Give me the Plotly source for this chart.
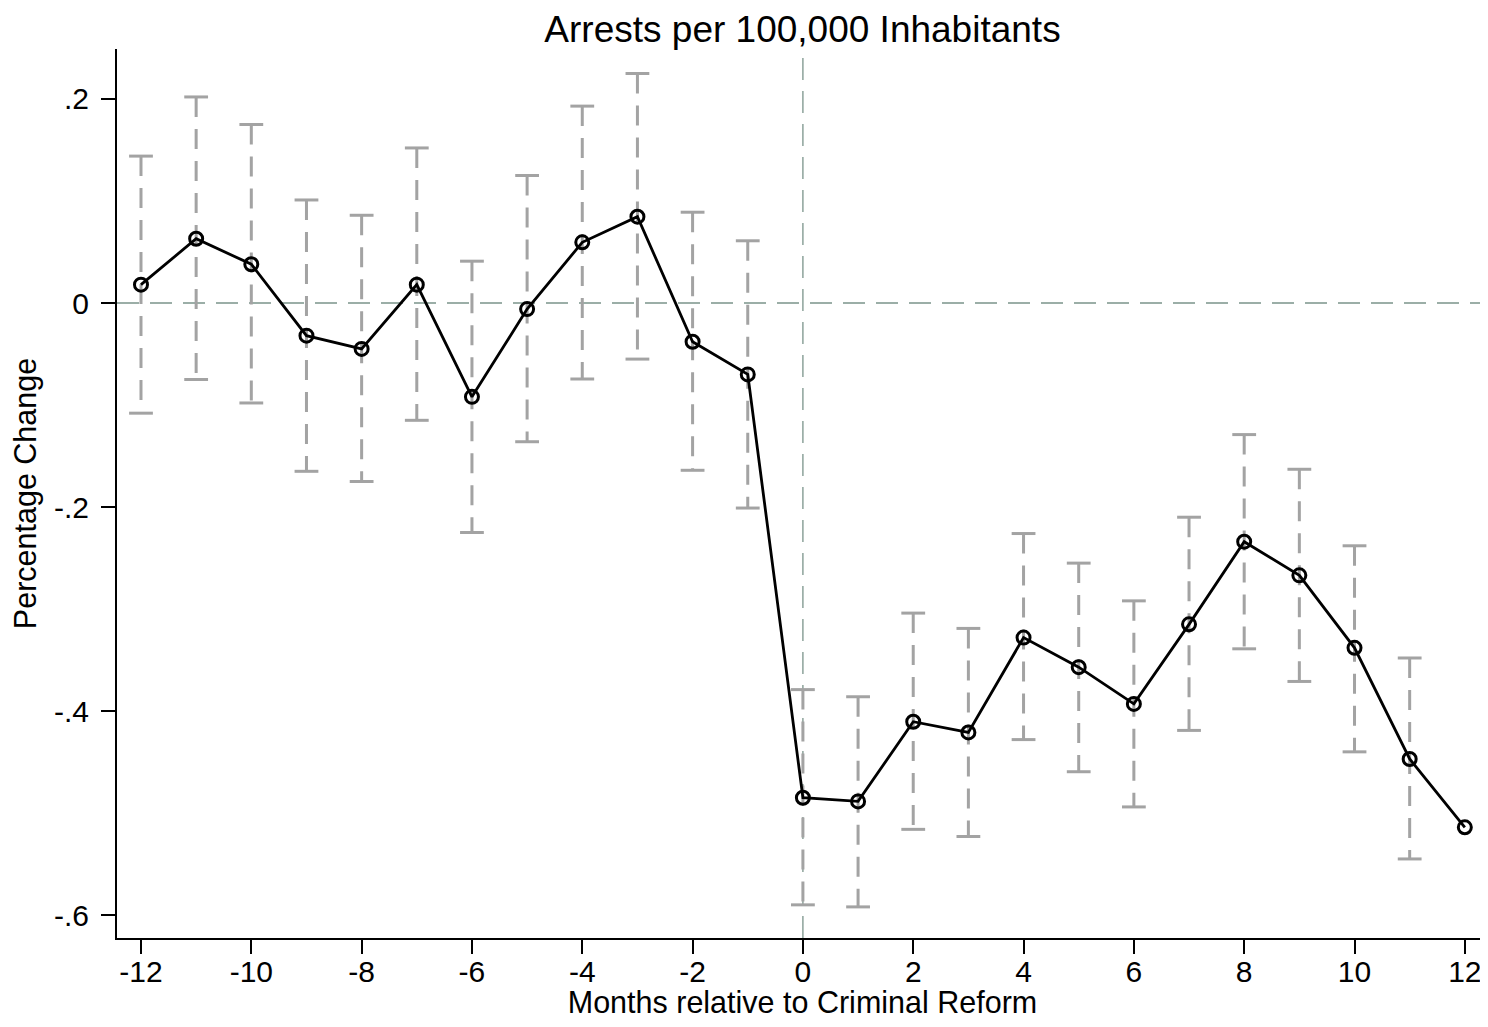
import plotly.graph_objects as go

months = list(range(-12, 13))
coef = [0.018, 0.063, 0.038, -0.032, -0.045, 0.018, -0.092, -0.006, 0.0595, 0.0846,
        -0.038, -0.070, -0.485, -0.4886, -0.4105, -0.421, -0.328, -0.357, -0.393,
        -0.315, -0.234, -0.267, -0.338, -0.447, -0.514]
ci_hi = [0.144, 0.202, 0.175, 0.101, 0.086, 0.152, 0.041, 0.125, 0.193, 0.225,
         0.089, 0.061, -0.379, -0.386, -0.304, -0.319, -0.226, -0.255, -0.292,
         -0.210, -0.129, -0.163, -0.238, -0.348, None]
ci_lo = [-0.108, -0.075, -0.098, -0.165, -0.175, -0.115, -0.225, -0.136, -0.0745, -0.055,
         -0.164, -0.201, -0.590, -0.592, -0.516, -0.523, -0.428, -0.4595, -0.494,
         -0.419, -0.339, -0.371, -0.440, -0.545, None]
xticks = list(range(-12, 13, 2))
yticks = [0.2, 0, -0.2, -0.4, -0.6]
yticklabels = [".2", "0", "-.2", "-.4", "-.6"]

FONT = "Liberation Sans, Arial, Helvetica, sans-serif"
GRAY = "#a3a3a3"
REF = "#7b948b"

# page body has an 8px default margin; size the figure so the plot lands where it should
W, H = 1480, 1011

fig = go.Figure()

# dashed vertical CI segments
ex, ey = [], []
for m, h, l in zip(months, ci_hi, ci_lo):
    if h is None or l is None:
        continue
    ex += [m, m, None]
    ey += [h, l, None]
fig.add_trace(go.Scatter(x=ex, y=ey, mode="lines",
                         line=dict(color=GRAY, width=3, dash="20px,12px"),
                         hoverinfo="skip", showlegend=False))

# caps
cx = [m for m, h in zip(months, ci_hi) if h is not None]
cx2 = cx + cx
cy = [h for h in ci_hi if h is not None] + [l for l in ci_lo if l is not None]
fig.add_trace(go.Scatter(x=cx2, y=cy, mode="markers",
                         marker=dict(symbol="line-ew", size=17,
                                     line=dict(color=GRAY, width=3)),
                         hoverinfo="skip", showlegend=False))

# coefficient line
fig.add_trace(go.Scatter(x=months, y=coef, mode="lines+markers",
                         line=dict(color="black", width=2.8),
                         marker=dict(symbol="circle-open", size=13,
                                     line=dict(color="#5c5c5c", width=3)),
                         showlegend=False))

fig.add_shape(type="line", xref="paper", yref="y", x0=0, x1=1, y0=0, y1=0,
              line=dict(color=REF, width=1.3, dash="22px,11px"), layer="below")
fig.add_shape(type="line", xref="x", yref="paper", x0=0, x1=0, y0=0, y1=1,
              line=dict(color=REF, width=1.3, dash="22px,11px"), layer="below")

fig.update_layout(
    width=W, height=H,
    margin=dict(l=109, r=0, t=41, b=81),
    paper_bgcolor="white", plot_bgcolor="white",
    font=dict(family=FONT, color="black", size=30),
    title=dict(text="Arrests per 100,000 Inhabitants", x=(802.5 - 8) / W, xanchor="center",
               xref="container",
               y=1 - 21 / H, yanchor="middle", font=dict(size=37, family=FONT)),
    xaxis=dict(range=[-12.435, 12.42], tickvals=xticks, ticktext=[str(v) for v in xticks],
               showgrid=False, zeroline=False, showline=True, linecolor="black", linewidth=2,
               ticks="outside", ticklen=14, tickwidth=1.5, tickcolor="black",
               tickfont=dict(size=30), ticklabelstandoff=-8,
               title=dict(text="Months relative to Criminal Reform", font=dict(size=30.5),
                          standoff=9)),
    yaxis=dict(range=[-0.6225, 0.249], tickvals=yticks, ticktext=yticklabels,
               showgrid=False, zeroline=False, showline=True, linecolor="black", linewidth=2,
               ticks="outside", ticklen=14, tickwidth=1.5, tickcolor="black",
               tickfont=dict(size=30), ticklabelstandoff=6,
               title=dict(text="Percentage Change", font=dict(size=30.5), standoff=12)),
)

fig.write_html("out.html")
